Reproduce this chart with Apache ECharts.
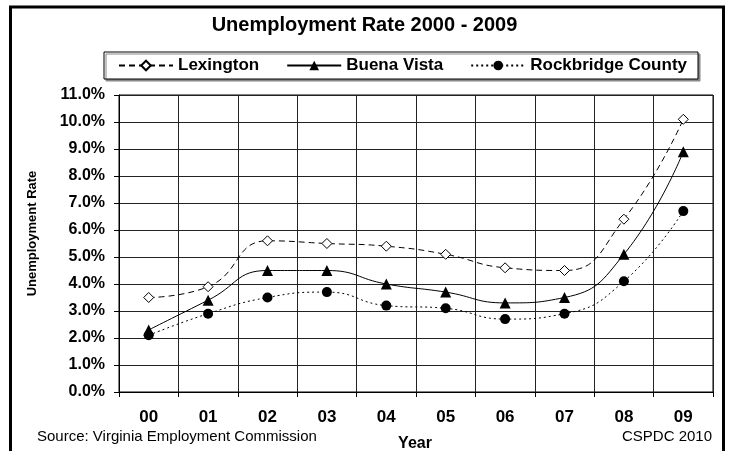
<!DOCTYPE html>
<html>
<head>
<meta charset="utf-8">
<script src="https://cdn.jsdelivr.net/npm/echarts@6/dist/echarts.min.js"></script>
<style>
html,body{margin:0;padding:0;background:#fff;}
#c{width:729px;height:451px;}
</style>
</head>
<body>
<div id="c"></div>
<script>
var years = ['00','01','02','03','04','05','06','07','08','09'];
var lexington = [3.5,3.9,5.6,5.5,5.4,5.1,4.6,4.5,6.4,10.1];
var buenaVista = [2.3,3.4,4.5,4.5,4.0,3.7,3.3,3.5,5.1,8.9];
var rockbridge = [2.1,2.9,3.5,3.7,3.2,3.1,2.7,2.9,4.1,6.7];
var yTicks = {min:0, max:11, interval:1};

var FF = '"Liberation Sans", Arial, sans-serif';
var chart = echarts.init(document.getElementById('c'));
chart.setOption({
  backgroundColor:'#fff',
  animation:false,
  title:{
    text:'Unemployment Rate 2000 - 2009',
    left:'center', top:10,
    textStyle:{fontFamily:FF, fontSize:20, fontWeight:'bold', color:'#000'}
  },
  legend:{
    left:104, top:52,
    padding:[5,11,5,14],
    itemWidth:54, itemHeight:12, itemGap:27,
    textStyle:{fontFamily:FF, fontSize:17, fontWeight:'bold', color:'#000'},
    borderColor:'#000', borderWidth:1, backgroundColor:'#fff',
    shadowColor:'#888', shadowOffsetX:2, shadowOffsetY:2, shadowBlur:0
  },
  grid:{left:119, right:16, top:95, bottom:59, containLabel:false, outerBoundsMode:'none',
    show:true, borderColor:'#000', borderWidth:1},
  xAxis:{
    type:'category', data:years, boundaryGap:true,
    axisLine:{lineStyle:{color:'#000', width:1}},
    axisTick:{show:true, length:5, lineStyle:{color:'#000'}},
    axisLabel:{fontFamily:FF, fontSize:17, fontWeight:'bold', color:'#000', margin:17},
    splitLine:{show:true, lineStyle:{color:'#222', width:1}}
  },
  yAxis:{
    type:'value', min:yTicks.min, max:yTicks.max, interval:yTicks.interval,
    axisLine:{show:true, lineStyle:{color:'#000', width:1}},
    axisTick:{show:true, length:5, lineStyle:{color:'#000'}},
    axisLabel:{fontFamily:FF, fontSize:16, fontWeight:'bold', color:'#000', margin:14,
      formatter:function(v){return v.toFixed(1)+'%';}},
    splitLine:{show:true, lineStyle:{color:'#222', width:1}}
  },
  graphic:[
    {type:'rect', shape:{x:10.5, y:7, width:713, height:460}, style:{fill:null, stroke:'#000', lineWidth:3}, silent:true, z:100},
    {type:'text', x:32.5, y:233.5, rotation:Math.PI/2,
      style:{text:'Unemployment Rate', fontFamily:FF, fontSize:13, fontWeight:'bold', fill:'#000', align:'center', verticalAlign:'middle'}},
    {type:'text', x:415, y:444,
      style:{text:'Year', fontFamily:FF, fontSize:16, fontWeight:'bold', fill:'#000', align:'center', verticalAlign:'middle'}},
    {type:'text', x:37, y:437,
      style:{text:'Source: Virginia Employment Commission', fontFamily:FF, fontSize:15, fill:'#000', align:'left', verticalAlign:'middle'}},
    {type:'text', x:712, y:437,
      style:{text:'CSPDC 2010', fontFamily:FF, fontSize:15, fill:'#000', align:'right', verticalAlign:'middle'}}
  ],
  series:[
    {name:'Lexington', type:'line', data:lexington, smooth:0.5,
      symbol:'diamond', symbolSize:10,
      lineStyle:{color:'#000', width:1, type:[6,4]},
      itemStyle:{color:'#fff', borderColor:'#000', borderWidth:1}},
    {name:'Buena Vista', type:'line', data:buenaVista, smooth:0.5,
      symbol:'triangle', symbolSize:11,
      lineStyle:{color:'#000', width:1, type:'solid'},
      itemStyle:{color:'#000', borderColor:'#000', borderWidth:0}},
    {name:'Rockbridge County', type:'line', data:rockbridge, smooth:0.5,
      symbol:'circle', symbolSize:10,
      lineStyle:{color:'#000', width:1, type:[2,3]},
      itemStyle:{color:'#000', borderColor:'#000', borderWidth:0}}
  ]
});
</script>
</body>
</html>
